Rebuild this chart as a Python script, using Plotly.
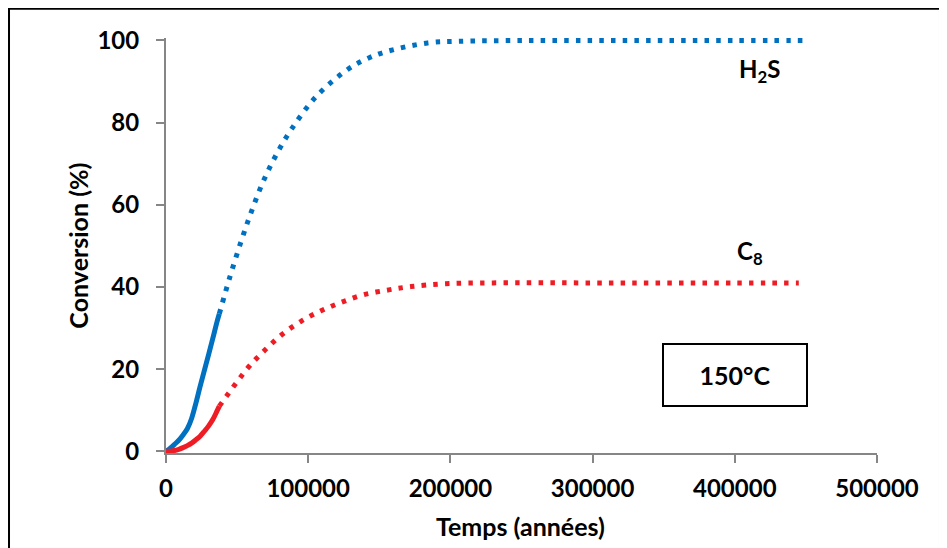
import plotly.graph_objects as go

# Phase initiale (points serrés -> trait continu)
annees_debut = [0, 3000, 6000, 9000, 12000, 15000, 18000, 21000, 24000, 27000, 30000, 33000, 36000, 37500]
h2s_debut = [0, 0.8, 1.7, 2.7, 4.0, 5.5, 8.0, 11.7, 15.8, 19.7, 23.6, 27.6, 31.7, 33.5]
c8_debut = [0, 0.05, 0.2, 0.5, 0.9, 1.4, 2.0, 2.8, 3.7, 4.9, 6.2, 7.8, 9.9, 11.0]

# Suite de la simulation (pointillés)
annees_h2s = [37500, 44800, 53000, 60000, 68000, 77400, 88600, 106000, 128000, 141000,
              155000, 184000, 206000, 250000, 300000, 350000, 400000, 452000]
h2s = [33.5, 42.3, 51.3, 58.3, 65.4, 72.1, 78.6, 86.5, 93.0, 95.5,
       97.3, 99.4, 99.8, 100, 100, 100, 100, 100]

annees_c8 = [37500, 49700, 59000, 70300, 81800, 94700, 109000, 123600, 138800, 156600,
             172300, 196700, 230000, 300000, 350000, 400000, 445000]
c8 = [11.0, 16.8, 20.9, 24.9, 28.5, 31.6, 34.2, 36.3, 38.1, 39.3,
      40.1, 40.8, 41.0, 41.0, 41.0, 41.0, 41.0]

BLEU = "#0070C0"
ROUGE = "#EE1C25"
GRIS = "#868686"
POLICE = "Lato"

fig = go.Figure()
for x, y, c in [(annees_h2s, h2s, BLEU), (annees_c8, c8, ROUGE)]:
    fig.add_trace(go.Scatter(
        x=x, y=y, mode="lines", line_shape="spline",
        line=dict(color=c, width=5, dash="4.5px,7.2px"),
        showlegend=False,
    ))
for y, c in [(h2s_debut, BLEU), (c8_debut, ROUGE)]:
    fig.add_trace(go.Scatter(
        x=annees_debut, y=y, mode="lines", line_shape="spline",
        line=dict(color=c, width=5),
        showlegend=False,
    ))

axe = dict(
    showgrid=False, zeroline=False, showline=True, linecolor=GRIS, linewidth=2,
    ticks="outside", ticklen=8, tickwidth=2, tickcolor=GRIS,
    tickfont=dict(family=POLICE, size=24, color="black", weight="bold"),
)

# la page ajoute 8 px de marge autour de la figure
fig.update_layout(
    width=939, height=540,
    margin=dict(l=158, r=70, t=29.5, b=94.5),
    plot_bgcolor="white", paper_bgcolor="white",
    xaxis=dict(range=[0, 500000], dtick=100000, tickformat="d",
               ticklabelstandoff=5, **axe),
    yaxis=dict(range=[-0.4, 100.6], tickvals=[0, 20, 40, 60, 80, 100],
               ticklabelstandoff=12, **axe),
    font=dict(family=POLICE, color="black"),
    shapes=[dict(type="rect", xref="paper", yref="paper",
                 x0=-0.2208, x1=1.0886, y0=-0.27, y1=1.0704,
                 line=dict(color="black", width=2), fillcolor="rgba(0,0,0,0)")],
    annotations=[
        dict(text="Temps (années)", xref="paper", yref="paper", x=0.498, y=-0.175,
             xanchor="center", yanchor="middle", showarrow=False,
             font=dict(size=25, weight="bold")),
        dict(text="Conversion (%)", xref="paper", yref="paper", x=-0.125, y=0.5,
             xanchor="center", yanchor="middle", textangle=-90, showarrow=False,
             font=dict(size=25, weight="bold")),
        dict(text="H<sub>2</sub>S", x=417700, y=92.7, showarrow=False,
             xanchor="center", yanchor="middle", font=dict(size=24, weight="bold")),
        dict(text="C<sub>8</sub>", x=410700, y=48.5, showarrow=False,
             xanchor="center", yanchor="middle", font=dict(size=24, weight="bold")),
        dict(text="150°C", x=0.8, y=0.187, xref="paper", yref="paper", showarrow=False,
             xanchor="center", yanchor="middle",
             width=136, height=54, borderpad=3, bordercolor="black", borderwidth=2,
             bgcolor="white", font=dict(size=25, weight="bold")),
    ],
)

fig.write_html("out.html")
